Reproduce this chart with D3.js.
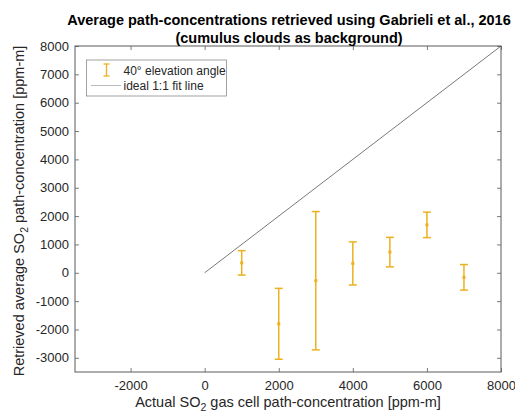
<!DOCTYPE html>
<html>
<head>
<meta charset="utf-8">
<script src="https://cdn.jsdelivr.net/npm/d3@7"></script>
<style>
  body { margin: 0; background: #fff; }
  svg { display: block; font-family: "Liberation Sans", Arial, sans-serif; }
</style>
</head>
<body>
<svg id="chart" width="515" height="414"></svg>
<script>
// Gas cell path-concentrations (ppm-m) and retrieved averages with spread
const actual    = [1000, 2000, 3000, 4000, 5000, 6000, 7000];
const retrieved = [350, -1800, -280, 330, 730, 1690, -160];
const errors    = [430, 1250, 2440, 760, 520, 450, 450];
const idealLine = [0, 8000];
const xTicks = [-2000, 0, 2000, 4000, 6000, 8000];
const yTicks = [-3000, -2000, -1000, 0, 1000, 2000, 3000, 4000, 5000, 6000, 7000, 8000];

const svg = d3.select("#chart");
const L = 75, R = 501, T = 46, B = 372;
const x = d3.scaleLinear().domain([-3500, 8000]).range([L, R]);
const y = d3.scaleLinear().domain([-3500, 8000]).range([B, T]);
const axisColor = "#5a5a5a";
const textColor = "#262626";
const barColor = "#EDB120";
const fmt = d => String(d); // plain hyphen for negatives

// Ticks pointing inward on all four sides
function styleAxis(g) {
  g.select(".domain").remove();
  g.selectAll(".tick line").attr("stroke", axisColor).attr("stroke-width", 0.8);
  g.selectAll(".tick text").attr("fill", textColor).style("font-size", "13px");
}
svg.append("g").attr("transform", `translate(0,${B})`)
  .call(d3.axisBottom(x).tickValues(xTicks).tickSize(-4).tickPadding(9).tickFormat(fmt))
  .call(styleAxis);
svg.append("g").attr("transform", `translate(0,${T})`)
  .call(d3.axisTop(x).tickValues(xTicks).tickSize(-4).tickFormat(""))
  .call(styleAxis);
svg.append("g").attr("transform", `translate(${L},0)`)
  .call(d3.axisLeft(y).tickValues(yTicks).tickSize(-4).tickPadding(6).tickFormat(fmt))
  .call(styleAxis);
svg.append("g").attr("transform", `translate(${R},0)`)
  .call(d3.axisRight(y).tickValues(yTicks).tickSize(-4).tickFormat(""))
  .call(styleAxis);

// Plot box
svg.append("rect").attr("x", L).attr("y", T).attr("width", R - L).attr("height", B - T)
  .attr("fill", "none").attr("stroke", axisColor).attr("stroke-width", 1);

// Ideal 1:1 line
svg.append("line")
  .attr("x1", x(idealLine[0])).attr("y1", y(idealLine[0]))
  .attr("x2", x(idealLine[1])).attr("y2", y(idealLine[1]))
  .attr("stroke", "#555").attr("stroke-width", 0.8);

// Error bars
const capW = 4;
const bars = svg.append("g").attr("stroke", barColor).attr("stroke-width", 1.5);
actual.forEach((a, i) => {
  const cx = x(a), top = y(retrieved[i] + errors[i]), bot = y(retrieved[i] - errors[i]);
  bars.append("line").attr("x1", cx).attr("x2", cx).attr("y1", top).attr("y2", bot);
  bars.append("line").attr("x1", cx - capW).attr("x2", cx + capW).attr("y1", top).attr("y2", top);
  bars.append("line").attr("x1", cx - capW).attr("x2", cx + capW).attr("y1", bot).attr("y2", bot);
  svg.append("rect").attr("x", cx - 1.5).attr("y", y(retrieved[i]) - 1.5)
    .attr("width", 3).attr("height", 3).attr("fill", barColor);
});

// Legend
const lg = svg.append("g");
lg.append("rect").attr("x", 86.5).attr("y", 60).attr("width", 140).attr("height", 36)
  .attr("fill", "#fff").attr("stroke", "#8a8a8a").attr("stroke-width", 0.8);
const lgBar = lg.append("g").attr("stroke", barColor).attr("stroke-width", 1.3);
lgBar.append("line").attr("x1", 106.5).attr("x2", 106.5).attr("y1", 64).attr("y2", 76);
lgBar.append("line").attr("x1", 103.5).attr("x2", 109.5).attr("y1", 64).attr("y2", 64);
lgBar.append("line").attr("x1", 103.5).attr("x2", 109.5).attr("y1", 76).attr("y2", 76);
lg.append("line").attr("x1", 91).attr("x2", 121).attr("y1", 85.5).attr("y2", 85.5)
  .attr("stroke", "#aaa").attr("stroke-width", 0.8);
lg.append("text").attr("x", 123.5).attr("y", 75).attr("fill", textColor)
  .style("font-size", "12px").text("40° elevation angle");
lg.append("text").attr("x", 123.5).attr("y", 89.5).attr("fill", textColor)
  .style("font-size", "12px").text("ideal 1:1 fit line");

// Title
const cxMid = (L + R) / 2;
svg.append("text").attr("x", cxMid + 1).attr("y", 25).attr("text-anchor", "middle")
  .style("font-size", "14.5px").style("font-weight", "bold").attr("fill", "#000")
  .text("Average path-concentrations retrieved using Gabrieli et al., 2016");
svg.append("text").attr("x", cxMid + 1).attr("y", 43).attr("text-anchor", "middle")
  .style("font-size", "14.5px").style("font-weight", "bold").attr("fill", "#000")
  .text("(cumulus clouds as background)");

// Axis labels
const xl = svg.append("text").attr("x", cxMid).attr("y", 407).attr("text-anchor", "middle")
  .attr("fill", textColor).style("font-size", "14.5px");
xl.append("tspan").text("Actual SO");
xl.append("tspan").attr("dy", 4).style("font-size", "10.5px").text("2");
xl.append("tspan").attr("dy", -4).text(" gas cell path-concentration [ppm-m]");

const yl = svg.append("text").attr("transform", `translate(24,${(T + B) / 2 + 2}) rotate(-90)`)
  .attr("text-anchor", "middle").attr("fill", textColor).style("font-size", "14.5px");
yl.append("tspan").text("Retrieved average SO");
yl.append("tspan").attr("dy", 4).style("font-size", "10.5px").text("2");
yl.append("tspan").attr("dy", -4).text(" path-concentration [ppm-m]");
</script>
</body>
</html>
